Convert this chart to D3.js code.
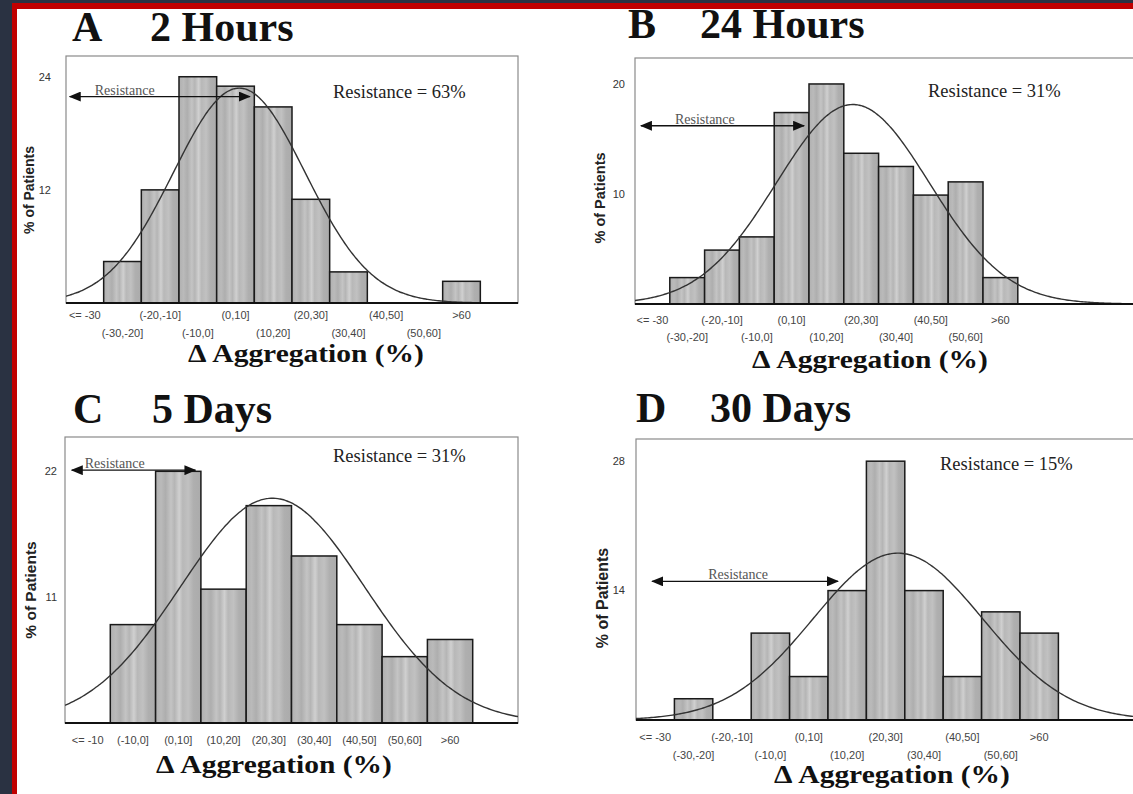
<!DOCTYPE html>
<html>
<head>
<meta charset="utf-8">
<script src="https://cdn.jsdelivr.net/npm/d3@7"></script>
<style>
  html, body { margin: 0; padding: 0; background: #2a3242; }
  svg { display: block; }
</style>
</head>
<body>
<svg id="fig" width="1133" height="794"></svg>
<script>
// ---- Bin labels (Δ aggregation, %) ----
const binsWide   = ["<= -30", "(-30,-20]", "(-20,-10]", "(-10,0]", "(0,10]", "(10,20]", "(20,30]", "(30,40]", "(40,50]", "(50,60]", ">60"];
const binsNarrow = ["<= -10", "(-10,0]", "(0,10]", "(10,20]", "(20,30]", "(30,40]", "(40,50]", "(50,60]", ">60"];

// ---- % of patients in each bin ----
const pct2h  = [0, 4.4, 12.0, 24.0, 23.0, 20.8, 11.0, 3.3, 0, 0, 2.3];
const pct24h = [0, 2.4, 4.9, 6.1, 17.4, 20.0, 13.7, 12.5, 9.9, 11.1, 2.4];
const pct5d  = [0, 8.6, 22.0, 11.7, 19.0, 14.6, 8.6, 5.8, 7.3];
const pct30d = [0, 2.3, 0, 9.4, 4.7, 14.0, 28.0, 14.0, 4.7, 11.7, 9.4];

// ---- Y-axis tick values ----
const ticks2h  = [12, 24];
const ticks24h = [10, 20];
const ticks5d  = [11, 22];
const ticks30d = [14, 28];

// ---- Fitted normal curve: [mean, SD] of Δ aggregation (%) ----
const fit2h  = [6.0, 17.5];
const fit24h = [22.6, 22.0];
const fit5d  = [25.8, 20.3];
const fit30d = [28.2, 22.1];

// ---- Resistance rate (%) ----
const resist2h = 63, resist24h = 31, resist5d = 31, resist30d = 15;

// ---- Resistance arrow: [from Δ, to Δ, at % of patients] ----
const arrow2h  = [-39.0, 8.8, 21.9];
const arrow24h = [-38.3, 8.6, 16.2];
const arrow5d  = [-18.5, 8.8, 22.1];
const arrow30d = [-35.8, 12.6, 15.0];

// ---- Panel layout (pixels) ----
const layout = {
  A: { left: 66,  right: 518,  top: 56,  base: 303, xDom: [-40, 80],  yMax: 26.2,
       letterX: 72, nameX: 150, titleY: 41, rowY: [12, 30],
       resX: 333, resY: 98, arrowTextDx: 25, xTitle: [306, 362], yTitle: [29, 190, 14], yTickX: 51 },
  B: { left: 635, right: 1157, top: 58,  base: 304, xDom: [-40, 110], yMax: 22.36,
       letterX: 628, nameX: 700, titleY: 38, rowY: [16, 33],
       resX: 928, resY: 97, arrowTextDx: 34, xTitle: [870, 368], yTitle: [600, 198, 14.5], yTickX: 625 },
  C: { left: 65,  right: 518,  top: 437, base: 723, xDom: [-20, 80],  yMax: 25.0,
       letterX: 73, nameX: 152, titleY: 423, rowY: [17, 17],
       resX: 333, resY: 462, arrowTextDx: 13, xTitle: [274, 773], yTitle: [31, 590, 15.5], yTickX: 57 },
  D: { left: 636, right: 1212, top: 439, base: 720, xDom: [-40, 110], yMax: 30.4,
       letterX: 636, nameX: 710, titleY: 422, rowY: [17, 35],
       resX: 940, resY: 470, arrowTextDx: 56, xTitle: [892, 783], yTitle: [602, 598, 16], yTickX: 625 }
};

const panels = [
  { key: "A", name: "2 Hours",  bins: binsWide,   pct: pct2h,  ticks: ticks2h,  fit: fit2h,  resist: resist2h,  arrow: arrow2h,  twoRows: true  },
  { key: "B", name: "24 Hours", bins: binsWide,   pct: pct24h, ticks: ticks24h, fit: fit24h, resist: resist24h, arrow: arrow24h, twoRows: true  },
  { key: "C", name: "5 Days",   bins: binsNarrow, pct: pct5d,  ticks: ticks5d,  fit: fit5d,  resist: resist5d,  arrow: arrow5d,  twoRows: false },
  { key: "D", name: "30 Days",  bins: binsWide,   pct: pct30d, ticks: ticks30d, fit: fit30d, resist: resist30d, arrow: arrow30d, twoRows: true  }
];

const BIN_W = 10;
const serif = "'Liberation Serif', 'Times New Roman', serif";
const sans = "'Liberation Sans', Arial, sans-serif";

const svg = d3.select("#fig");

// Slide background: red border and white page
svg.append("rect").attr("x", 0).attr("y", 0).attr("width", 1133).attr("height", 794).attr("fill", "#2a3242");
svg.append("rect").attr("x", 12).attr("y", 3).attr("width", 1121).attr("height", 791).attr("fill", "#c00000");
svg.append("rect").attr("x", 17).attr("y", 9).attr("width", 1116).attr("height", 785).attr("fill", "#ffffff");

// Streaky grey fill for the histogram bars
const defs = svg.append("defs");
const grad = defs.append("linearGradient").attr("id", "barFill")
  .attr("x1", "0%").attr("x2", "100%").attr("y1", "0%").attr("y2", "0%");
[[0, "#b0b0b0"], [0.12, "#bababa"], [0.22, "#aeaeae"], [0.34, "#c4c4c4"], [0.42, "#b5b5b5"],
 [0.52, "#d0d0d0"], [0.6, "#b8b8b8"], [0.72, "#c1c1c1"], [0.84, "#afafaf"], [1, "#ababab"]]
  .forEach(([o, c]) => grad.append("stop").attr("offset", o).attr("stop-color", c));

defs.append("marker").attr("id", "arrowHead")
  .attr("viewBox", "0 0 12 10").attr("refX", 11).attr("refY", 5)
  .attr("markerWidth", 12).attr("markerHeight", 10).attr("markerUnits", "userSpaceOnUse")
  .attr("orient", "auto-start-reverse")
  .append("path").attr("d", "M0,0 L12,5 L0,10 Z").attr("fill", "#111");

panels.forEach(p => {
  const L = layout[p.key];
  const g = svg.append("g");

  const x = d3.scaleLinear().domain(L.xDom).range([L.left, L.right]);
  const y = d3.scaleLinear().domain([0, L.yMax]).range([L.base, L.top]);
  const lo = L.xDom[0];

  const clipId = "clip" + p.key;
  defs.append("clipPath").attr("id", clipId).append("rect")
    .attr("x", L.left).attr("y", L.top).attr("width", L.right - L.left).attr("height", L.base - L.top + 2);

  // Title
  g.append("text").attr("x", L.letterX).attr("y", L.titleY)
    .attr("font-family", serif).attr("font-weight", "bold").attr("font-size", 42).attr("fill", "#111")
    .text(p.key);
  g.append("text").attr("x", L.nameX).attr("y", L.titleY)
    .attr("font-family", serif).attr("font-weight", "bold").attr("font-size", 42).attr("fill", "#111")
    .text(p.name);

  // Plot frame
  g.append("rect").attr("x", L.left).attr("y", L.top)
    .attr("width", L.right - L.left).attr("height", L.base - L.top)
    .attr("fill", "none").attr("stroke", "#8a8a8a").attr("stroke-width", 1.2);

  const plot = g.append("g").attr("clip-path", `url(#${clipId})`);

  // Histogram bars
  const bars = p.pct.map((v, i) => ({ v, x0: lo + i * BIN_W, x1: lo + (i + 1) * BIN_W })).filter(d => d.v > 0);
  plot.selectAll("rect.bar").data(bars).join("rect").attr("class", "bar")
    .attr("x", d => x(d.x0)).attr("width", d => x(d.x1) - x(d.x0))
    .attr("y", d => y(d.v)).attr("height", d => y(0) - y(d.v))
    .attr("fill", "url(#barFill)").attr("stroke", "#1a1a1a").attr("stroke-width", 1.5);

  // Fitted normal curve, scaled to % of patients per bin
  const [mu, sd] = p.fit;
  const dens = t => 100 * BIN_W / (sd * Math.sqrt(2 * Math.PI)) * Math.exp(-0.5 * ((t - mu) / sd) ** 2);
  const xs = d3.range(L.xDom[0], L.xDom[1] + 0.001, 0.5);
  plot.append("path").datum(xs)
    .attr("d", d3.line().x(t => x(t)).y(t => y(dens(t))).curve(d3.curveBasis))
    .attr("fill", "none").attr("stroke", "#333").attr("stroke-width", 1.4);

  // Baseline
  g.append("line").attr("x1", L.left).attr("x2", L.right).attr("y1", L.base).attr("y2", L.base)
    .attr("stroke", "#111").attr("stroke-width", 2.2);

  // Y tick labels
  g.selectAll("text.yt").data(p.ticks).join("text").attr("class", "yt")
    .attr("x", L.yTickX).attr("y", d => y(d)).attr("dy", "0.35em")
    .attr("text-anchor", "end").attr("font-family", sans).attr("font-size", 11).attr("fill", "#333")
    .text(d => d);

  // X tick labels (staggered in two rows when crowded)
  g.selectAll("text.xt").data(p.bins).join("text").attr("class", "xt")
    .attr("x", (d, i) => x(lo + i * BIN_W + BIN_W / 2))
    .attr("y", (d, i) => L.base + (p.twoRows && i % 2 === 1 ? L.rowY[1] : L.rowY[0]))
    .attr("dy", "0.35em")
    .attr("text-anchor", "middle").attr("font-family", sans).attr("font-size", 11).attr("fill", "#444")
    .text(d => d);

  // Axis titles
  g.append("text")
    .attr("transform", `translate(${L.xTitle[0]},${L.xTitle[1]}) scale(1.18,1)`)
    .attr("text-anchor", "middle")
    .attr("font-family", serif).attr("font-weight", "bold").attr("font-size", 25).attr("fill", "#111")
    .text("\u0394 Aggregation (%)");
  g.append("text").attr("transform", `translate(${L.yTitle[0]},${L.yTitle[1]}) rotate(-90)`)
    .attr("text-anchor", "middle").attr("dy", "0.35em")
    .attr("font-family", sans).attr("font-weight", "bold").attr("font-size", L.yTitle[2]).attr("fill", "#222")
    .text("% of Patients");

  // Resistance rate
  g.append("text").attr("x", L.resX).attr("y", L.resY)
    .attr("font-family", serif).attr("font-size", 18.5).attr("fill", "#222")
    .text(`Resistance = ${p.resist}%`);

  // Resistance range arrow
  const [a0, a1, ay] = p.arrow;
  g.append("line").attr("x1", x(a0)).attr("x2", x(a1)).attr("y1", y(ay)).attr("y2", y(ay))
    .attr("stroke", "#111").attr("stroke-width", 1.3)
    .attr("marker-start", "url(#arrowHead)").attr("marker-end", "url(#arrowHead)");
  g.append("text").attr("x", x(a0) + L.arrowTextDx).attr("y", y(ay) - 2)
    .attr("font-family", serif).attr("font-size", 14).attr("fill", "#555")
    .text("Resistance");
});
</script>
</body>
</html>
